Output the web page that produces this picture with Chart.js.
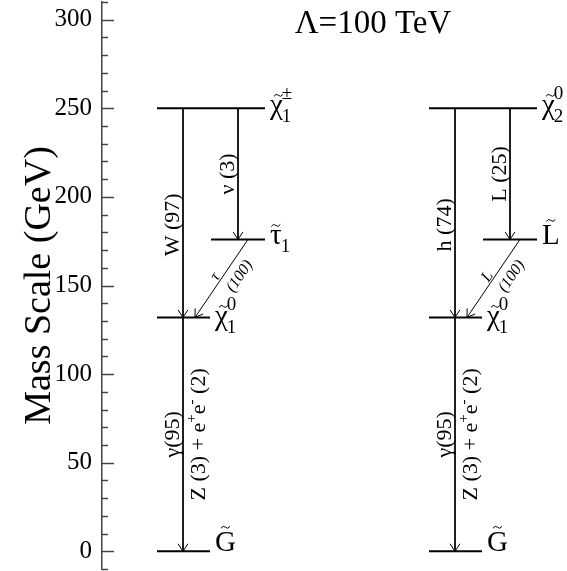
<!DOCTYPE html>
<html>
<head>
<meta charset="utf-8">
<script src="https://cdn.jsdelivr.net/npm/chart.js@4.4.0/dist/chart.umd.min.js"></script>
<style>
  html, body { margin: 0; padding: 0; background: #fff; }
</style>
</head>
<body>
<canvas id="myChart" width="567" height="571"></canvas>
<script>
const serif = "'Liberation Serif', 'Times New Roman', serif";

// masses in GeV: heavy state, slepton, lightest neutralino, gravitino
const levelMasses = [250, 176, 132, 0];
const heavyStates = [{ sym: 'χ', sub: '1', sup: '±' }, { sym: 'χ', sub: '2', sup: '0' }];
const sleptonStates = [{ sym: 'τ', sub: '1', sup: '' }, { sym: 'L', sub: '', sup: '' }];
const neutralinoStates = [{ sym: 'χ', sub: '1', sup: '0' }, { sym: 'χ', sub: '1', sup: '0' }];
const gravitinoStates = [{ sym: 'G', sub: '', sup: '' }, { sym: 'G', sub: '', sup: '' }];
const mainDecayLabels = ['W (97)', 'h (74)'];
const sideDecayLabels = ['ν (3)', 'L (25)'];
const diagParticles = ['τ', 'L'];
const diagBR = ['(100)', '(100)'];
const photonLabel = 'γ(95)';
const zLabel = [['Z (3) + e', ''], ['+', 'sup'], ['e', ''], ['-', 'sup'], [' (2)', '']];
const yTickLabels = [0, 50, 100, 150, 200, 250, 300];
const yMin = -10, yMax = 310;
const titleText = 'Λ=100 TeV';

// layout (x in pixels right of the axis)
const colX = [55, 327];
const geo = { heavy: [0, 108], slepton: [54, 108], light: [0, 53], mainX: 26, sideX: 81, diagTop: 91, diagBot: 38 };
const labelDy = [6, 5, 8, 0];

const [mHeavy, mSlep, mChi, mGrav] = levelMasses;

const line = (x0, y0, x1, y1, w, extra) => Object.assign({
    type: 'line',
    data: [{ x: x0, y: y0 }, { x: x1, y: y1 }],
    borderColor: '#000',
    borderWidth: w,
    pointRadius: 0,
    showLine: true,
    tension: 0
}, extra || {});

const datasets = [];
colX.forEach((cx, c) => {
    datasets.push(line(cx + geo.heavy[0], mHeavy, cx + geo.heavy[1], mHeavy, 2, { level: 0, state: heavyStates[c] }));
    datasets.push(line(cx + geo.slepton[0], mSlep, cx + geo.slepton[1], mSlep, 2, { level: 1, state: sleptonStates[c] }));
    datasets.push(line(cx + geo.light[0], mChi, cx + geo.light[1], mChi, 2, { level: 2, state: neutralinoStates[c] }));
    datasets.push(line(cx + geo.light[0], mGrav, cx + geo.light[1], mGrav, 2, { level: 3, state: gravitinoStates[c] }));
    datasets.push(line(cx + geo.mainX, mHeavy, cx + geo.mainX, mChi, 1, { arrow: true, vlabel: mainDecayLabels[c], shift: 12 }));
    datasets.push(line(cx + geo.sideX, mHeavy, cx + geo.sideX, mSlep, 1, { arrow: true, vlabel: sideDecayLabels[c], shift: 0 }));
    datasets.push(line(cx + geo.diagTop, mSlep, cx + geo.diagBot, mChi, 1, { arrow: true, dlabel: [diagParticles[c], diagBR[c]] }));
    datasets.push(line(cx + geo.mainX, mChi, cx + geo.mainX, mGrav, 1, { arrow: true, vlabel: photonLabel, shift: 0, zlabel: true }));
});

const drawTilde = (ctx, cx, cy) => {
    ctx.beginPath();
    ctx.moveTo(cx - 4.5, cy + 1);
    ctx.quadraticCurveTo(cx - 2.2, cy - 2.5, cx, cy);
    ctx.quadraticCurveTo(cx + 2.2, cy + 2.5, cx + 4.5, cy - 1);
    ctx.lineWidth = 1;
    ctx.stroke();
};

const drawState = (ctx, st, x, y) => {
    ctx.textAlign = 'left';
    ctx.textBaseline = 'alphabetic';
    ctx.font = `29px ${serif}`;
    ctx.fillText(st.sym, x, y);
    const w = ctx.measureText(st.sym).width;
    const tall = st.sym === 'G' || st.sym === 'L';
    drawTilde(ctx, x + w / 2 + (st.sym === 'χ' ? 2 : 0), y - (tall ? 24 : 19));
    ctx.font = `19px ${serif}`;
    if (st.sub) ctx.fillText(st.sub, x + w - 1, y + 8);
    if (st.sup) ctx.fillText(st.sup, x + w - 1, y - 15);
};

const arrowHead = (ctx, x, y, ang) => {
    const len = 9, spread = 0.58;
    ctx.beginPath();
    ctx.moveTo(x - len * Math.cos(ang - spread), y - len * Math.sin(ang - spread));
    ctx.lineTo(x, y);
    ctx.lineTo(x - len * Math.cos(ang + spread), y - len * Math.sin(ang + spread));
    ctx.lineWidth = 1;
    ctx.stroke();
};

const decorations = {
    id: 'decorations',
    afterDatasetsDraw(chart) {
        const { ctx, chartArea, scales: { x: xs, y: ys } } = chart;
        ctx.save();
        ctx.fillStyle = '#000';

        // inside tick marks on the mass axis
        ctx.strokeStyle = '#444';
        ctx.lineWidth = 1.5;
        for (let v = yMin; v <= yMax; v += 10) {
            const py = Math.round(ys.getPixelForValue(v)) + 0.5;
            const len = v % 50 === 0 ? 12 : 6;
            ctx.beginPath();
            ctx.moveTo(chartArea.left, py);
            ctx.lineTo(chartArea.left + len, py);
            ctx.stroke();
        }
        ctx.strokeStyle = '#000';

        chart.data.datasets.forEach((ds, i) => {
            const pts = chart.getDatasetMeta(i).data;
            const p0 = pts[0], p1 = pts[1];
            if (ds.state) {
                drawState(ctx, ds.state, p1.x + 5, p1.y + labelDy[ds.level]);
            }
            if (ds.arrow) {
                arrowHead(ctx, p1.x, p1.y, Math.atan2(p1.y - p0.y, p1.x - p0.x));
            }
            if (ds.vlabel) {
                const yc = (p0.y + p1.y) / 2 + ds.shift;
                ctx.save();
                ctx.translate(p0.x - 4, yc);
                ctx.rotate(-Math.PI / 2);
                ctx.font = `22px ${serif}`;
                ctx.textAlign = 'center';
                ctx.textBaseline = 'alphabetic';
                ctx.fillText(ds.vlabel, 0, 0);
                ctx.restore();
            }
            if (ds.zlabel) {
                const yc = (p0.y + p1.y) / 2;
                ctx.save();
                ctx.translate(p0.x + 22, yc);
                ctx.rotate(-Math.PI / 2);
                ctx.textAlign = 'left';
                ctx.textBaseline = 'alphabetic';
                const big = `22px ${serif}`, small = `15px ${serif}`;
                let total = 0;
                zLabel.forEach(([t, kind]) => {
                    ctx.font = kind ? small : big;
                    total += ctx.measureText(t).width;
                });
                let xx = -total / 2;
                zLabel.forEach(([t, kind]) => {
                    ctx.font = kind ? small : big;
                    ctx.fillText(t, xx, kind ? -9 : 0);
                    xx += ctx.measureText(t).width;
                });
                ctx.restore();
            }
            if (ds.dlabel) {
                const ang = Math.atan2(p0.y - p1.y, p0.x - p1.x);
                ctx.save();
                ctx.translate((p0.x + p1.x) / 2, (p0.y + p1.y) / 2);
                ctx.rotate(ang);
                ctx.font = `italic 16px ${serif}`;
                ctx.textAlign = 'center';
                ctx.textBaseline = 'middle';
                ctx.fillText(ds.dlabel[0], -2, -6);
                ctx.fillText(ds.dlabel[1], 12, 14);
                ctx.restore();
            }
        });

        // heading
        ctx.font = `33px ${serif}`;
        ctx.textAlign = 'center';
        ctx.textBaseline = 'alphabetic';
        ctx.fillText(titleText, chartArea.left + 271, 33);
        ctx.restore();
    }
};

const ctx = document.getElementById('myChart');

const myChart = new Chart(ctx, {
    type: 'scatter',
    data: { datasets: datasets },
    options: {
        responsive: false,
        animation: false,
        devicePixelRatio: 1,
        layout: { padding: { top: 2, bottom: 2, left: 0, right: 0 } },
        plugins: { legend: { display: false }, tooltip: { enabled: false } },
        scales: {
            x: { type: 'linear', display: false, min: 0, max: 465 },
            y: {
                type: 'linear',
                min: yMin,
                max: yMax,
                afterFit: (scale) => {
                    scale.width = 102;
                    scale.paddingTop = 0;
                    scale.paddingBottom = 0;
                },
                ticks: {
                    stepSize: 10,
                    autoSkip: false,
                    padding: 10,
                    color: '#000',
                    font: { family: serif, size: 25 },
                    callback: (v) => yTickLabels.includes(v) ? String(v) : ''
                },
                grid: { drawOnChartArea: false, drawTicks: false },
                border: { display: true, color: '#444', width: 1.5 },
                title: {
                    display: true,
                    text: 'Mass Scale (GeV)',
                    color: '#000',
                    font: { family: serif, size: 38 },
                    padding: { top: 17, bottom: 0 }
                }
            }
        }
    },
    plugins: [decorations]
});
</script>
</body>
</html>
